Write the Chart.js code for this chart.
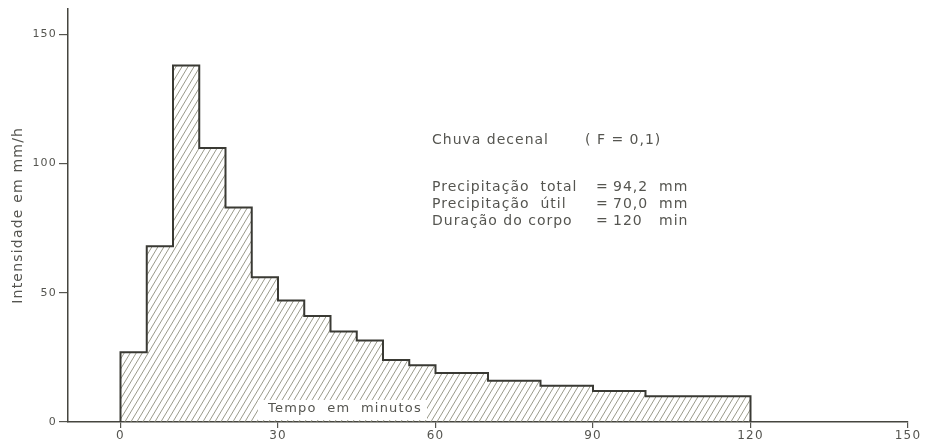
<!DOCTYPE html>
<html>
<head>
<meta charset="utf-8">
<script src="https://cdn.jsdelivr.net/npm/chart.js@4"></script>
<style>
  html, body { margin: 0; padding: 0; background: #ffffff; }
  #wrap { width: 928px; height: 447px; }
</style>
</head>
<body>
<div id="wrap"><canvas id="hietograma" width="928" height="447"></canvas></div>
<script>
// Início de cada intervalo de 5 minutos (min)
const tempoInicio = [0, 5, 10, 15, 20, 25, 30, 35, 40, 45, 50, 55,
                     60, 65, 70, 75, 80, 85, 90, 95, 100, 105, 110, 115];
// Intensidade média em cada intervalo (mm/h)
const intensidade = [27, 68, 138, 106, 83, 56, 47, 41, 35, 31.5, 24, 22,
                     19, 19, 16, 16, 14, 14, 12, 12, 10, 10, 10, 10];
const duracaoIntervalo = 5;
const ticksTempo = [0, 30, 60, 90, 120, 150];
const ticksIntensidade = [0, 50, 100, 150];
const legendaTitulo = ['Chuva decenal', '( F = 0,1)'];
const legendaRotulos = ['Precipitação  total', 'Precipitação  útil', 'Duração do corpo'];
const legendaValores = ['94,2  mm', '70,0  mm', '120   min'];

const FONTE = '"DejaVu Sans", sans-serif';
const COR_TEXTO = '#555550';
const COR_CONTORNO = '#3a3a34';

// Contorno em degraus do hietograma
const fim = tempoInicio[tempoInicio.length - 1] + duracaoIntervalo;
const contorno = [{ x: tempoInicio[0], y: 0 }]
  .concat(tempoInicio.map((t, i) => ({ x: t, y: intensidade[i] })))
  .concat([{ x: fim, y: intensidade[intensidade.length - 1] }, { x: fim, y: 0 }]);

// Hachura diagonal
function hachura() {
  const w = 6, h = 10;
  const c = document.createElement('canvas');
  c.width = w; c.height = h;
  const g = c.getContext('2d');
  g.strokeStyle = '#8f8f7e';
  g.lineWidth = 0.9;
  for (const dx of [-w, 0, w]) {
    g.beginPath();
    g.moveTo(dx, h);
    g.lineTo(dx + w, 0);
    g.stroke();
  }
  return g.createPattern(c, 'repeat');
}

// Espaçamento entre letras, à moda do letreiro técnico
const espacamento = {
  id: 'espacamento',
  beforeDraw(chart) { chart.ctx.letterSpacing = '1.2px'; },
  afterDraw(chart) { chart.ctx.letterSpacing = '0px'; }
};

const textos = {
  id: 'textos',
  afterDatasetsDraw(chart) {
    const ctx = chart.ctx;
    ctx.save();
    ctx.letterSpacing = '1px';
    ctx.fillStyle = COR_TEXTO;
    ctx.textBaseline = 'middle';
    ctx.font = '14px ' + FONTE;
    ctx.textAlign = 'left';
    ctx.fillText(legendaTitulo[0], 432, 140.5);
    ctx.fillText(legendaTitulo[1], 585, 140.5);
    const ys = [187, 204, 221];
    legendaRotulos.forEach((r, i) => {
      ctx.fillText(r, 432, ys[i]);
      ctx.fillText('=', 596, ys[i]);
      ctx.fillText(legendaValores[i], 613, ys[i]);
    });
    // Rótulo do eixo de tempo, sobre fundo branco
    ctx.fillStyle = '#ffffff';
    ctx.fillRect(258, 400, 169, 20);
    ctx.fillStyle = COR_TEXTO;
    ctx.font = '13px ' + FONTE;
    ctx.letterSpacing = '1.2px';
    ctx.fillText('Tempo  em  minutos', 268, 409);
    ctx.restore();
  }
};

new Chart(document.getElementById('hietograma'), {
  type: 'line',
  data: {
    datasets: [{
      data: contorno,
      stepped: true,
      fill: 'origin',
      backgroundColor: hachura(),
      borderColor: COR_CONTORNO,
      borderWidth: 2,
      pointRadius: 0,
      tension: 0
    }]
  },
  options: {
    responsive: false,
    animation: false,
    events: [],
    layout: { padding: { top: 4, right: 20, left: 0, bottom: 0 } },
    plugins: { legend: { display: false }, tooltip: { enabled: false } },
    scales: {
      x: {
        type: 'linear',
        min: -10,
        max: 150,
        afterBuildTicks: s => { s.ticks = ticksTempo.map(v => ({ value: v })); },
        afterFit: s => { s.height = 25; },
        grid: { display: true, drawOnChartArea: false, drawTicks: true, tickLength: 6, color: '#555550', lineWidth: 1.2 },
        border: { display: true, color: '#45453f', width: 1.5 },
        ticks: { color: COR_TEXTO, font: { family: FONTE, size: 12 }, padding: 1, maxRotation: 0, autoSkip: false }
      },
      y: {
        type: 'linear',
        min: 0,
        max: 160,
        afterBuildTicks: s => { s.ticks = ticksIntensidade.map(v => ({ value: v })); },
        afterFit: s => { s.width = 68; },
        grid: { display: true, drawOnChartArea: false, drawTicks: true, tickLength: 9, color: '#555550', lineWidth: 1.2 },
        border: { display: true, color: '#45453f', width: 1.5 },
        ticks: { color: COR_TEXTO, font: { family: FONTE, size: 11 }, padding: 2, autoSkip: false },
        title: {
          display: true,
          text: 'Intensidade em mm/h',
          color: COR_TEXTO,
          font: { family: FONTE, size: 14 },
          padding: { top: 10, bottom: 0 }
        }
      }
    }
  },
  plugins: [espacamento, textos]
});
</script>
</body>
</html>
